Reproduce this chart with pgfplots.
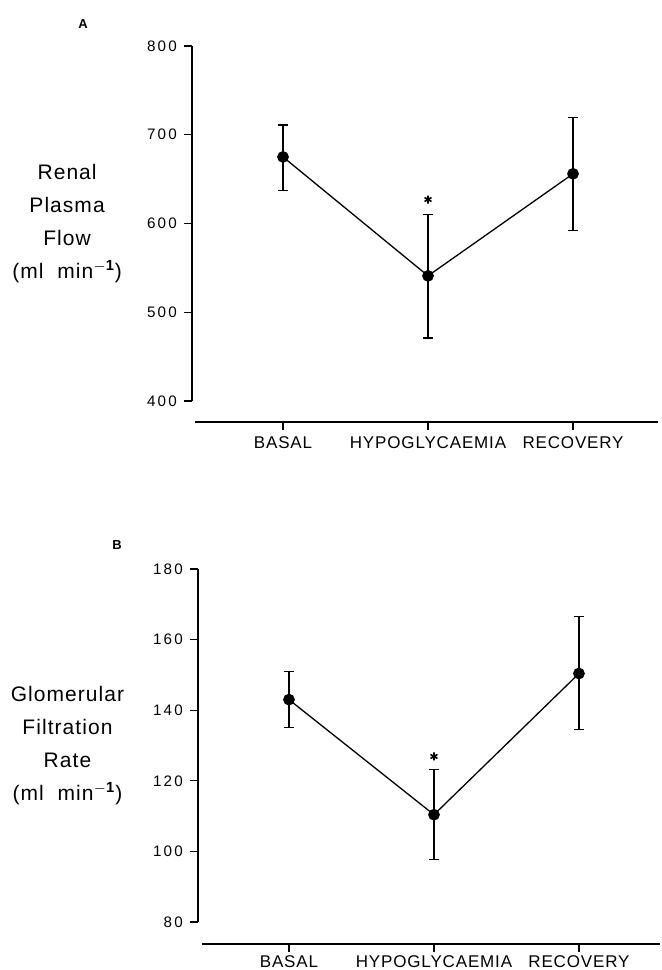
\documentclass[border=0pt]{standalone}
\usepackage{pgfplots}
\pgfplotsset{compat=1.18}
\usepackage{pgfplotstable}
\usepackage{fontspec}
\setmainfont{Liberation Sans}[LetterSpace=5]
\newfontfamily\tickfont{Liberation Sans}[LetterSpace=15]

\pgfplotstableread{
x y ep em
0 675 36 38
1 541 69 70
2 656 63 64
}\dataA
\pgfplotstableread{
x y ep em
0 143.0 8.0 8.0
1 110.4 12.9 12.8
2 150.4 16.2 15.9
}\dataB

\begin{document}
\begin{tikzpicture}
\path[use as bounding box] (0,0) rectangle (331pt,-485pt);
\pgfplotsset{
 panel/.style={
  scale only axis, clip=false,
  axis x line=bottom, axis y line=left,
  axis line style={-, line width=0.75pt},
  tick align=outside, major tick length=4pt,
  tick style={black, line width=0.6pt},
  xtick={0,1,2}, xticklabels={BASAL,HYPOGLYCAEMIA,RECOVERY},
  xticklabel style={font=\fontsize{8.5}{10}\selectfont},
  yticklabel style={font=\tickfont\fontsize{7.6}{8}\selectfont},
  /pgf/number format/assume math mode=true,
  xmin=-0.6276,
  ylabel style={rotate=-90, align=center, anchor=center, font=\fontsize{10.5}{16.5}\selectfont},
 },
 dataline/.style={black, line width=0.65pt, mark=*, mark size=2.6pt,
  error bars/.cd, y dir=both, y explicit,
  error bar style={line width=0.6pt, solid},
  error mark options={rotate=90, mark size=2.5pt, line width=0.6pt}},
}
% Panel A
\begin{axis}[panel,
  at={(96pt,-211pt)}, anchor=south west,
  width=233pt, height=188pt,
  xmax=2.586, ymin=376.3, ymax=800,
  ytick={400,500,600,700,800},
  y axis line style={shorten <=10.5pt},
  x axis line style={shorten <=1.5pt},
  ylabel={Renal\\Plasma\\Flow\\(ml~~min$^{\mathbf{-1}}$)},
  ylabel style={at={(axis description cs:-0.268,0.527)}},
]
\addplot[dataline] table[x=x, y=y, y error plus=ep, y error minus=em] {\dataA};
\addplot[only marks, mark=asterisk, mark size=2pt, line width=0.8pt] coordinates {(1,627)};
\node[font=\bfseries\fontsize{6.5}{7}\selectfont] at (axis description cs:-0.234,1.059) {A};
\end{axis}
% Panel B
\begin{axis}[panel,
  at={(99pt,-472pt)}, anchor=south west,
  width=231pt, height=187.5pt,
  xmax=2.559, ymin=73.77, ymax=180,
  ytick={80,100,120,140,160,180},
  y axis line style={shorten <=11pt},
  x axis line style={shorten <=2pt},
  xticklabel style={yshift=1.5pt},
  ylabel={Glomerular\\Filtration\\Rate\\(ml~~min$^{\mathbf{-1}}$)},
  ylabel style={at={(axis description cs:-0.2825,0.528)}},
]
\addplot[dataline] table[x=x, y=y, y error plus=ep, y error minus=em] {\dataB};
\addplot[only marks, mark=asterisk, mark size=2pt, line width=0.8pt] coordinates {(1,126.9)};
\node[font=\bfseries\fontsize{6.5}{7}\selectfont] at (axis description cs:-0.175,1.064) {B};
\end{axis}
\end{tikzpicture}
\end{document}
